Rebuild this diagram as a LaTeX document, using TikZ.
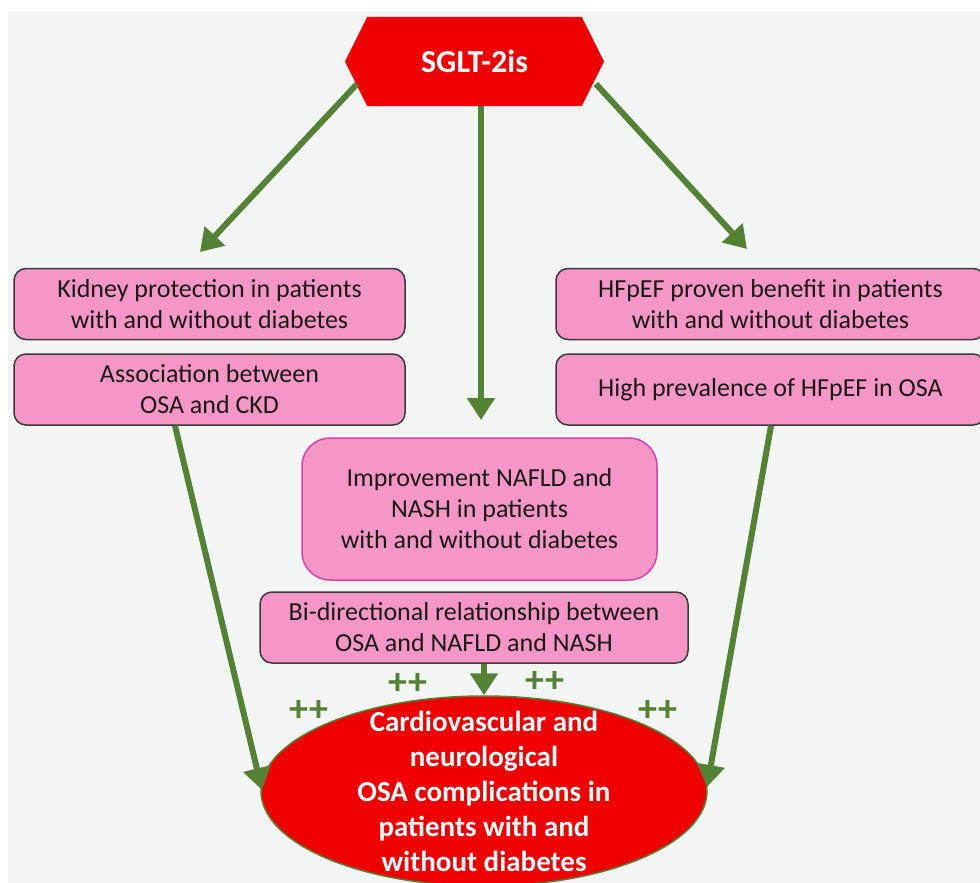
\documentclass[tikz,border=0pt]{standalone}
\usepackage{fontspec}
\setmainfont{Carlito}
\usetikzlibrary{shapes,shapes.symbols,shapes.geometric,arrows.meta,positioning,calc}
\definecolor{sgltred}{HTML}{F00000}
\definecolor{boxpink}{HTML}{F596C6}
\definecolor{arrgreen}{HTML}{548235}
\definecolor{bggrey}{HTML}{F3F5F4}
\definecolor{boxedge}{HTML}{3A3A3A}
\definecolor{magedge}{HTML}{D63FB2}

\begin{document}
\begin{tikzpicture}[x=1pt, y=-1pt,
    box/.style={rectangle, rounded corners=12pt, draw=boxedge, line width=1.5pt, fill=boxpink, minimum height=71pt, align=center, font=\fontsize{26}{31}\selectfont, text=black!90},
    arr/.style={draw=arrgreen, line width=6pt, -{Triangle[length=22pt, width=27pt]}},
    plus/.style={text=arrgreen, inner sep=0pt, font=\fontsize{38}{38}\selectfont\bfseries}
]
    \clip (0,0) rectangle (980,883);
    \fill[white] (0,0) rectangle (980,883);
    \fill[bggrey] (8,11) rectangle (980,883);

    % SGLT-2is hexagon
    \node[signal, signal to=east and west, signal pointer angle=127, fill=sgltred, minimum width=259pt, minimum height=89pt, inner sep=0pt, text=white, font=\fontsize{32}{36}\selectfont\bfseries] (sglt) at (474.5,61.5) {SGLT-2is};

    % Left column
    \node[box, minimum width=391pt] (kid) at (209.5,304) {Kidney protection in patients\\with and without diabetes};
    \node[box, minimum width=391pt] (ckd) at (209.5,389.5) {Association between\\OSA and CKD};

    % Right column
    \node[box, minimum width=429pt] (hfp) at (770.5,304) {HFpEF proven benefit in patients\\with and without diabetes};
    \node[box, minimum width=429pt] (prev) at (770.5,389.5) {High prevalence of HFpEF in OSA};

    % Middle column
    \node[box, draw=magedge, rounded corners=28pt, minimum width=355pt, minimum height=142pt] (nafld) at (479.5,509) {Improvement NAFLD and\\NASH in patients\\with and without diabetes};
    \node[box, minimum width=428pt] (bidir) at (474,627.5) {Bi-directional relationship between\\OSA and NAFLD and NASH};

    % Complications ellipse
    \node[ellipse, fill=sgltred, draw=arrgreen, line width=1.5pt, minimum width=446pt, minimum height=190pt, inner sep=0pt] (cvd) at (484,791) {};
    \node[align=center, text=white, font=\fontsize{29}{35}\selectfont\bfseries] (cvdtext) at (cvd.center) {Cardiovascular and\\neurological\\OSA complications in\\patients with and\\without diabetes};

    % Arrow ends
    \coordinate (s1) at (357,84);
    \coordinate (s3) at (596,84);
    \coordinate (t1) at (200,252);
    \coordinate (t2) at (481,420);
    \coordinate (t3) at (747,249);
    \coordinate (t4) at (262,790);
    \coordinate (t5) at (707,787);

    % Relationships
    \draw[arr] (s1) -- (t1);
    \draw[arr] (sglt.south -| t2) -- (t2);
    \draw[arr] (s3) -- (t3);
    \draw[arr] (ckd.south -| 175,0) -- (t4);
    \draw[arr] (prev.south -| 771,0) -- (t5);
    \draw[arr] (bidir.south -| cvd.north) -- (cvd.north);

    \node[plus] (p1) at (408,684) {++};
    \node[plus] (p2) at (545,682) {++};
    \node[plus] (p3) at (309,711) {++};
    \node[plus] (p4) at (658,711) {++};
\end{tikzpicture}
\end{document}
